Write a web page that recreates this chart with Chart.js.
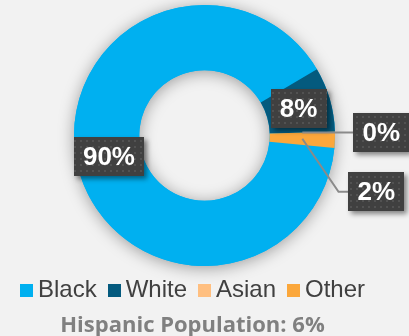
<!DOCTYPE html>
<html>
<head>
<meta charset="utf-8">
<script src="https://cdn.jsdelivr.net/npm/chart.js@4.4.0/dist/chart.umd.min.js"></script>
<style>
  html, body { margin: 0; padding: 0; background: #f2f2f2; }
  #chart { display: block; }
</style>
</head>
<body>
<canvas id="chart" width="409" height="336"></canvas>
<script>
// --- data ---
const categories = ['Black', 'White', 'Asian', 'Other'];
const shares = [90, 8, 0, 2];
const sliceColors = ['#00b0f0', '#045a7e', '#ffbf80', '#fba73b'];
const footerText = 'Hispanic Population: 6%';

// labels that sit outside the ring, offset from the slice centroid
const outsideLabels = {
    2: { dx: 79, dy: 0 },
    3: { dx: 74, dy: 53 }
};

function makePattern(ctx) {
    const c = document.createElement('canvas');
    c.width = 6; c.height = 6;
    const p = c.getContext('2d');
    p.fillStyle = '#404040';
    p.fillRect(0, 0, 6, 6);
    p.fillStyle = '#525252';
    p.fillRect(2, 2, 2, 2);
    return ctx.createPattern(c, 'repeat');
}

// soft shadow under the ring (also falls into the hole)
const ringShadow = {
    id: 'ringShadow',
    beforeDatasetsDraw(chart) {
        const arc = chart.getDatasetMeta(0).data[0];
        if (!arc) return;
        const ctx = chart.ctx;
        ctx.save();
        ctx.shadowColor = 'rgba(0,0,0,0.36)';
        ctx.shadowBlur = 16;
        ctx.shadowOffsetY = 2;
        ctx.fillStyle = sliceColors[0];
        ctx.beginPath();
        ctx.arc(arc.x, arc.y, arc.outerRadius, 0, Math.PI * 2);
        ctx.arc(arc.x, arc.y, arc.innerRadius, 0, Math.PI * 2, true);
        ctx.fill();
        ctx.restore();
    }
};

function drawBox(ctx, pattern, text, cx, cy) {
    ctx.font = 'bold 26px "Liberation Sans", Arial, sans-serif';
    const w = Math.round(ctx.measureText(text).width + 18);
    const h = 39;
    const x = Math.round(cx - w / 2), y = Math.round(cy - h / 2);
    ctx.save();
    ctx.shadowColor = 'rgba(0,0,0,0.45)';
    ctx.shadowBlur = 5;
    ctx.shadowOffsetX = 3;
    ctx.shadowOffsetY = 3;
    ctx.fillStyle = pattern;
    ctx.fillRect(x, y, w, h);
    ctx.restore();
    ctx.fillStyle = '#ffffff';
    ctx.textAlign = 'center';
    ctx.textBaseline = 'middle';
    ctx.fillText(text, cx, cy + 1);
    return { x, y, w, h };
}

const sliceLabels = {
    id: 'sliceLabels',
    afterDatasetsDraw(chart) {
        const ctx = chart.ctx;
        const pattern = makePattern(ctx);
        const meta = chart.getDatasetMeta(0);
        meta.data.forEach((arc, i) => {
            const pos = arc.tooltipPosition();
            const text = shares[i] + '%';
            const off = outsideLabels[i];
            if (!off) {
                drawBox(ctx, pattern, text, pos.x, pos.y);
                return;
            }
            const bx = pos.x + off.dx, by = pos.y + off.dy;
            ctx.font = 'bold 26px "Liberation Sans", Arial, sans-serif';
            const left = bx - (ctx.measureText(text).width + 18) / 2;
            ctx.save();
            ctx.strokeStyle = '#8a8a8a';
            ctx.lineWidth = 2;
            ctx.beginPath();
            ctx.moveTo(pos.x, pos.y);
            if (off.dy !== 0) {
                ctx.lineTo(left - 10, by);
            }
            ctx.lineTo(left, by);
            ctx.stroke();
            ctx.restore();
            drawBox(ctx, pattern, text, bx, by);
        });
    }
};

// legend row + footer title, centered a little left of the ring
const footer = {
    id: 'footer',
    afterDraw(chart) {
        const ctx = chart.ctx;
        const box = 13, gap = 5, itemGap = 11;
        ctx.save();
        ctx.font = '24px "Liberation Sans", Arial, sans-serif';
        let total = 0;
        categories.forEach((c, i) => {
            total += box + gap + ctx.measureText(c).width;
            if (i < categories.length - 1) total += itemGap;
        });
        const centerX = chart.width / 2 - 12;
        let x = centerX - total / 2;
        const baseline = 297;
        ctx.textBaseline = 'alphabetic';
        ctx.textAlign = 'left';
        categories.forEach((c, i) => {
            ctx.fillStyle = sliceColors[i];
            ctx.fillRect(Math.round(x), 284, box, box);
            x += box + gap;
            ctx.fillStyle = '#404040';
            ctx.fillText(c, x, baseline);
            x += ctx.measureText(c).width + itemGap;
        });
        ctx.font = 'bold 22px "Open Sans", sans-serif';
        ctx.fillStyle = '#808080';
        ctx.textAlign = 'center';
        ctx.fillText(footerText, centerX, 332);
        ctx.restore();
    }
};

new Chart(document.getElementById('chart'), {
    type: 'doughnut',
    data: {
        labels: categories,
        datasets: [{
            data: shares,
            backgroundColor: sliceColors,
            borderWidth: 0
        }]
    },
    options: {
        responsive: false,
        animation: false,
        rotation: 95.5,
        cutout: '50%',
        layout: { padding: { top: 5, bottom: 70 } },
        plugins: {
            legend: { display: false },
            title: { display: false },
            tooltip: { enabled: false }
        }
    },
    plugins: [ringShadow, sliceLabels, footer]
});
</script>
</body>
</html>
